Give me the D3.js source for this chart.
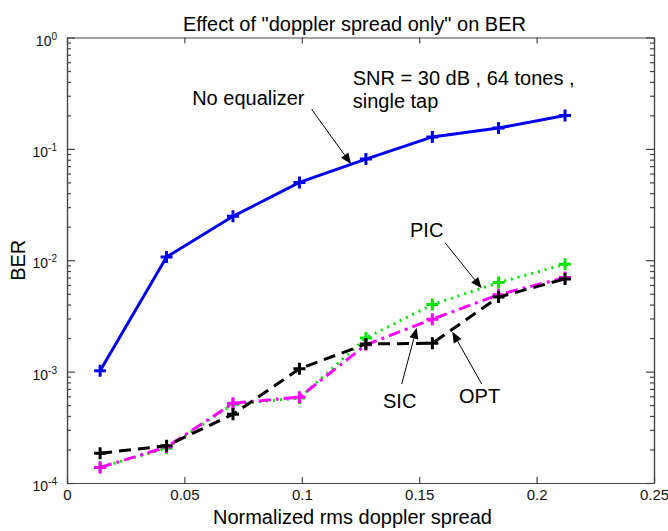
<!DOCTYPE html>
<html>
<head>
<meta charset="utf-8">
<script src="https://cdn.jsdelivr.net/npm/d3@7"></script>
<style>
  body { margin: 0; background: #fff; }
  svg text { font-family: "Liberation Sans", Arial, sans-serif; }
</style>
</head>
<body>
<svg id="chart"></svg>
<script>
    // ============ DATA =================
    var spread = [0.0141, 0.0424, 0.0707, 0.099, 0.1273, 0.1556, 0.1838, 0.2121];
    var noEq = [0.00102, 0.0107, 0.0248, 0.050, 0.081, 0.128, 0.154, 0.199];
    var pic  = [0.000138, 0.000205, 0.00051, 0.00058, 0.0020, 0.0040, 0.0063, 0.0092];
    var sic  = [0.000138, 0.00021, 0.00052, 0.00059, 0.00174, 0.00296, 0.0049, 0.0070];
    var opt  = [0.000185, 0.000216, 0.000414, 0.00106, 0.00177, 0.0018, 0.00467, 0.0068];
    var xTicks = [0, 0.05, 0.1, 0.15, 0.2, 0.25];
    var yTicks = [1e-4, 1e-3, 1e-2, 1e-1, 1];
    var yExp = ["-4", "-3", "-2", "-1", "0"];

    // annotations, in data units
    var notes = [
        {text: "No equalizer", x: 0.0533, y: 0.248},
        {text: "SNR = 30 dB , 64 tones ,", x: 0.1217, y: 0.3746},
        {text: "single tap", x: 0.1217, y: 0.233},
        {text: "PIC", x: 0.1461, y: 0.01627},
        {text: "SIC", x: 0.1346, y: 0.000471},
        {text: "OPT", x: 0.16695, y: 0.000519}
    ];
    var arrows = [
        {x1: 0.1042, y1: 0.2266, x2: 0.121, y2: 0.0731},
        {x1: 0.161, y1: 0.01437, x2: 0.1766, y2: 0.0056},
        {x1: 0.14255, y1: 0.000774, x2: 0.14894, y2: 0.00248},
        {x1: 0.1766, y1: 0.000774, x2: 0.1641, y2: 0.002283}
    ];

    var width = 668, height = 531;
    var padL = 67, padR = 654, padT = 37.5, padB = 483;

    var svg = d3.select("#chart").attr("width", width).attr("height", height);
    svg.append("rect").attr("width", width).attr("height", height).attr("fill", "#fff");

    var xScale = d3.scaleLinear().domain([0, 0.25]).range([padL, padR]);
    var yScale = d3.scaleLog().domain([1e-4, 1]).range([padB, padT]);

    // minor log ticks 2..9 per decade
    var minor = [];
    for (var e = -4; e < 0; e++) {
        for (var m = 2; m <= 9; m++) minor.push(m * Math.pow(10, e));
    }

    var axisColor = "#444";

    function styleAxis(g) {
        g.selectAll("path, line").attr("stroke", axisColor).attr("stroke-width", 1.2);
        g.selectAll("text").attr("fill", "#111").style("font-size", "15px");
    }

    // bottom axis with labels
    svg.append("g")
        .attr("transform", "translate(0," + padB + ")")
        .call(d3.axisBottom(xScale).tickValues(xTicks).tickSizeInner(-6).tickSizeOuter(0)
            .tickPadding(6).tickFormat(function(d) { return String(d); }))
        .call(styleAxis);

    // top axis, no labels
    svg.append("g")
        .attr("transform", "translate(0," + padT + ")")
        .call(d3.axisTop(xScale).tickValues(xTicks).tickSizeInner(-6).tickSizeOuter(0).tickFormat(""))
        .call(styleAxis);

    // left axis: decades with 10^n labels
    var yLeft = svg.append("g")
        .attr("transform", "translate(" + padL + ",0)")
        .call(d3.axisLeft(yScale).tickValues(yTicks).tickSizeInner(-8).tickSizeOuter(0).tickPadding(10))
        .call(styleAxis);
    yLeft.selectAll(".tick text").each(function(d, i) {
        var t = d3.select(this).text("").style("font-size", "14px").attr("dy", "0.55em");
        t.append("tspan").text("10");
        t.append("tspan").attr("dy", "-0.6em").style("font-size", "10px").text(yExp[i]);
    });
    svg.append("g")
        .attr("transform", "translate(" + padL + ",0)")
        .call(d3.axisLeft(yScale).tickValues(minor).tickSizeInner(-4).tickSizeOuter(0).tickFormat(""))
        .call(styleAxis);

    // right axis
    svg.append("g")
        .attr("transform", "translate(" + padR + ",0)")
        .call(d3.axisRight(yScale).tickValues(yTicks).tickSizeInner(-8).tickSizeOuter(0).tickFormat(""))
        .call(styleAxis);
    svg.append("g")
        .attr("transform", "translate(" + padR + ",0)")
        .call(d3.axisRight(yScale).tickValues(minor).tickSizeInner(-4).tickSizeOuter(0).tickFormat(""))
        .call(styleAxis);

    // ============ SERIES =================
    var series = [
        {values: noEq, color: "#0000f0", dash: null},
        {values: pic, color: "#00e600", dash: "2,5"},
        {values: sic, color: "#ff00ff", dash: "12,5,3,5"},
        {values: opt, color: "#000000", dash: "12,7"}
    ];

    var line = d3.line()
        .x(function(d) { return xScale(d[0]); })
        .y(function(d) { return yScale(d[1]); });

    series.forEach(function(s) {
        var pts = spread.map(function(x, i) { return [x, s.values[i]]; });
        svg.append("path")
            .datum(pts)
            .attr("d", line)
            .attr("fill", "none")
            .attr("stroke", s.color)
            .attr("stroke-width", 3)
            .attr("stroke-dasharray", s.dash);
        svg.selectAll(null)
            .data(pts)
            .enter().append("path")
            .attr("d", function(d) {
                var cx = xScale(d[0]), cy = yScale(d[1]), r = 6;
                return "M" + (cx - r) + "," + cy + "H" + (cx + r) + "M" + cx + "," + (cy - r) + "V" + (cy + r);
            })
            .attr("stroke", s.color)
            .attr("stroke-width", 3)
            .attr("fill", "none");
    });

    // ============ ANNOTATIONS =================
    svg.selectAll(".note")
        .data(notes)
        .enter().append("text")
        .attr("class", "note")
        .attr("x", function(d) { return xScale(d.x); })
        .attr("y", function(d) { return yScale(d.y); })
        .style("font-size", "20px")
        .attr("fill", "#000")
        .text(function(d) { return d.text; });

    arrows.forEach(function(a) {
        var x1 = xScale(a.x1), y1 = yScale(a.y1), x2 = xScale(a.x2), y2 = yScale(a.y2);
        var ang = Math.atan2(y2 - y1, x2 - x1);
        var len = 11, half = 4.5;
        var bx = x2 - len * Math.cos(ang), by = y2 - len * Math.sin(ang);
        svg.append("line")
            .attr("x1", x1).attr("y1", y1).attr("x2", bx).attr("y2", by)
            .attr("stroke", "#000").attr("stroke-width", 1);
        svg.append("path")
            .attr("d", "M" + x2 + "," + y2 +
                "L" + (bx + half * Math.sin(ang)) + "," + (by - half * Math.cos(ang)) +
                "L" + (bx - half * Math.sin(ang)) + "," + (by + half * Math.cos(ang)) + "Z")
            .attr("fill", "#000");
    });

    // ============ TITLES =================
    svg.append("text")
        .attr("x", (padL + padR) / 2 - 6).attr("y", 31)
        .attr("text-anchor", "middle")
        .style("font-size", "20px")
        .text('Effect of "doppler spread only" on BER');

    svg.append("text")
        .attr("x", (padL + padR) / 2 - 8).attr("y", 524)
        .attr("text-anchor", "middle")
        .style("font-size", "20px")
        .text("Normalized rms doppler spread");

    svg.append("text")
        .attr("transform", "translate(25," + ((padT + padB) / 2) + ") rotate(-90)")
        .attr("text-anchor", "middle")
        .style("font-size", "20px")
        .text("BER");
</script>
</body>
</html>
